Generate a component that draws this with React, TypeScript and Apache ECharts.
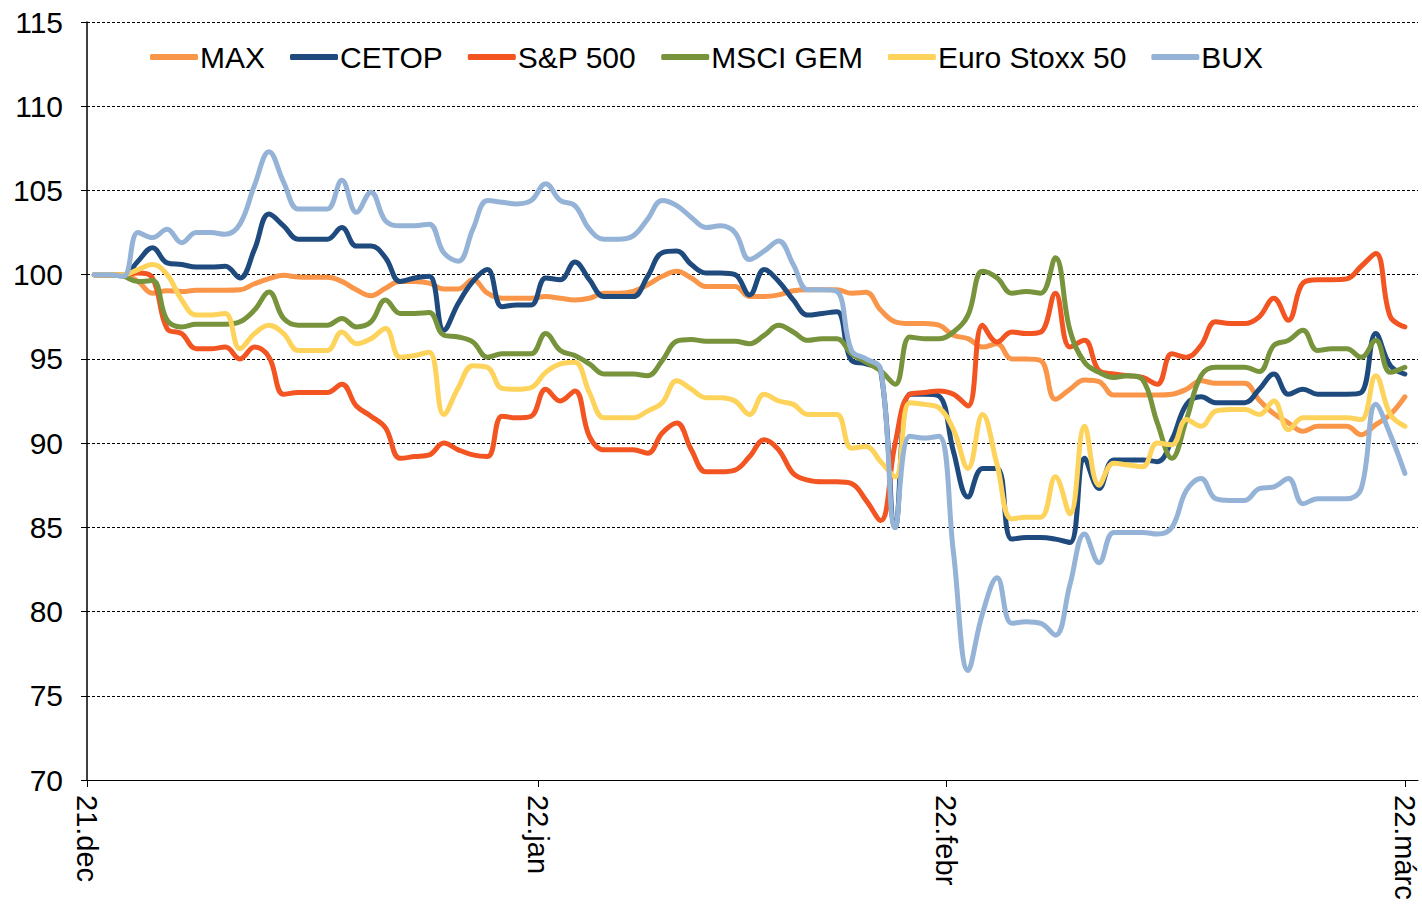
import React, { useEffect, useRef } from "react";
import * as echarts from "echarts";

// Daily values, 2021-12-31 (index 0) to 2022-03-31 (index 90), base = 100
const MAX = [
  100, 100, 100, 99.6, 98.9, 99.05, 99.0, 99.07, 99.07, 99.07, 99.1, 99.46, 99.76, 99.96, 99.86, 99.84, 99.84,
  99.6, 99.1, 98.75, 99.2, 99.6, 99.6, 99.5, 99.15, 99.15, 99.7, 98.9, 98.6, 98.6, 98.6,
  98.7, 98.6, 98.5, 98.6, 98.9, 98.9, 99.0, 99.4, 99.9, 100.2, 99.8, 99.3, 99.3, 99.3,
  98.7, 98.7, 98.8, 99.05, 99.1, 99.1, 99.1, 98.9, 98.95, 97.9, 97.2, 97.1, 97.1, 97.0,
  96.4, 96.2, 95.7, 95.9, 95.0, 95.0, 94.9, 92.6, 93.2, 93.75, 93.65, 92.85, 92.85, 92.85,
  92.85, 92.9, 93.2, 93.7, 93.55, 93.55, 93.55, 92.55, 91.75, 91.2, 90.7, 91.0, 91.0, 91.0,
  90.5, 91.1, 91.7, 92.75,
];
const CETOP = [
  100, 100, 99.95, 100.8, 101.6, 100.7, 100.6, 100.45, 100.45, 100.5, 99.8, 101.5, 103.6, 102.9, 102.1, 102.1, 102.1,
  102.8, 101.7, 101.7, 101.0, 99.6, 99.8, 99.9, 96.7, 98.3, 99.6, 100.3, 98.1, 98.2, 98.2,
  99.8, 99.7, 100.75, 99.7, 98.7, 98.7, 98.7, 99.9, 101.3, 101.4, 100.6, 100.1, 100.1, 100.0,
  98.8, 100.3, 99.6, 98.5, 97.6, 97.7, 97.8, 94.9, 94.7, 94.3, 85.0, 92.9, 92.9, 92.8,
  89.5, 86.8, 88.5, 88.5, 84.3, 84.4, 84.4, 84.3, 84.1, 89.1, 87.3, 89.0, 89.0, 89.0,
  88.9, 90.2, 92.3, 92.75, 92.4, 92.4, 92.4, 93.2, 94.1, 92.9, 93.2, 92.9, 92.9, 92.9,
  93.0, 96.5, 94.6, 94.1,
];
const SP500 = [
  100, 100, 100, 100.1, 99.8, 96.8, 96.5, 95.6, 95.6, 95.7, 95.0, 95.7, 95.1, 92.9, 93.0, 93.0, 93.0,
  93.5, 92.2, 91.6, 90.9, 89.1, 89.2, 89.3, 90.0, 89.6, 89.3, 89.2, 91.6, 91.5, 91.6,
  93.2, 92.5, 93.1, 90.4, 89.6, 89.6, 89.6, 89.4, 90.6, 91.2, 89.6, 88.3, 88.3, 88.4,
  89.2, 90.2, 89.6, 88.2, 87.8, 87.7, 87.7, 87.6, 86.6, 85.4, 90.0, 92.9, 93.0, 93.1,
  92.9, 92.2, 97.0, 96.0, 96.6, 96.5, 96.6, 98.9, 95.7, 96.1, 94.3, 94.1, 94.0, 93.9,
  93.5, 95.3, 95.1, 95.8, 97.2, 97.1, 97.1, 97.5, 98.6, 97.3, 99.5, 99.7, 99.7, 99.75,
  100.5, 101.25, 97.5, 96.9,
];
const MSCI_GEM = [
  100, 100, 99.9, 99.6, 99.65, 97.3, 96.9, 97.06, 97.06, 97.06, 97.2, 97.9, 98.97, 97.4, 97.0, 97.0, 97.0,
  97.4, 96.9, 97.2, 98.5, 97.7, 97.7, 97.75, 96.4, 96.3, 96.0, 95.1, 95.3, 95.3, 95.3,
  96.5, 95.5, 95.2, 94.7, 94.1, 94.1, 94.1, 94.0, 94.9, 96.05, 96.15, 96.05, 96.05, 96.05,
  95.9, 96.4, 97.0, 96.6, 96.1, 96.2, 96.2, 95.3, 94.8, 94.3, 93.5, 96.3, 96.2, 96.2,
  96.6, 97.6, 100.2, 99.8, 98.9, 99.0, 98.9, 101.0, 96.7, 94.8, 94.2, 93.9, 94.0, 93.75,
  91.2, 89.1, 91.4, 94.0, 94.5, 94.5, 94.5, 94.25, 95.8, 96.1, 96.7, 95.5, 95.6, 95.6,
  95.1, 96.1, 94.2, 94.5,
];
const EURO_STOXX = [
  100, 100, 100, 100.3, 100.6, 100.0, 98.5, 97.6, 97.6, 97.7, 95.6, 96.5, 97.0, 96.5, 95.5, 95.5, 95.5,
  96.6, 95.9, 96.2, 96.8, 95.1, 95.2, 95.4, 91.7, 93.3, 94.6, 94.5, 93.25, 93.2, 93.3,
  94.2, 94.7, 94.8, 93.0, 91.5, 91.5, 91.5, 91.9, 92.4, 93.7, 93.2, 92.7, 92.7, 92.5,
  91.7, 92.9, 92.5, 92.3, 91.7, 91.7, 91.7, 89.7, 89.8, 88.9, 88.0, 92.4, 92.3, 92.1,
  90.8, 88.5, 91.7, 88.7, 85.5, 85.6, 85.6, 88.0, 85.8, 91.0, 87.5, 88.8, 88.7, 88.6,
  90.0, 89.9, 91.4, 91.0, 91.9, 92.0, 92.0, 91.7, 92.5, 90.8, 91.5, 91.5, 91.5, 91.5,
  91.4, 94.0, 91.7, 91.0,
];
const BUX = [
  100, 100, 99.9, 102.5, 102.2, 102.7, 101.9, 102.5, 102.5, 102.4, 103.0, 105.3, 107.3, 105.5, 103.9, 103.9, 103.9,
  105.6, 103.7, 104.9, 103.2, 102.9, 102.9, 103.0, 101.3, 100.8, 102.7, 104.4, 104.3, 104.2, 104.4,
  105.4, 104.4, 104.1, 102.7, 102.1, 102.1, 102.3, 103.3, 104.4, 104.1, 103.4, 102.8, 102.9, 102.5,
  100.9, 101.4, 102.0, 100.6, 99.1, 99.1, 99.0, 95.5, 95.0, 94.4, 85.0, 90.4, 90.3, 90.4,
  83.5, 76.5, 79.9, 82.0, 79.3, 79.4, 79.3, 78.6, 81.6, 84.6, 82.9, 84.7, 84.7, 84.7,
  84.6, 85.0, 87.2, 87.9, 86.7, 86.6, 86.6, 87.3, 87.4, 87.9, 86.4, 86.7, 86.7, 86.7,
  87.3, 92.3, 90.5, 88.2,
];

const SERIES_NAMES = ["MAX", "CETOP", "S&P 500", "MSCI GEM", "Euro Stoxx 50", "BUX"];
const SERIES_DATA = [MAX, CETOP, SP500, MSCI_GEM, EURO_STOXX, BUX];
const SERIES_COLORS = ["#F9964A", "#1F4A7E", "#F25522", "#77933C", "#FDD35C", "#95B3D7"];

// x-axis tick positions (day boundaries) and their labels
const TICK_POSITIONS = [0, 31, 59, 90.5];
const TICK_LABELS = ["21.dec", "22.jan", "22.febr", "22.márc"];

const FONT = "'Liberation Sans', Arial, sans-serif";

export default function App() {
  const ref = useRef<HTMLDivElement>(null);

  useEffect(() => {
    if (!ref.current) return;
    const chart = echarts.init(ref.current, undefined, { renderer: "svg" });
    const option: any = {
      animation: false,
      backgroundColor: "#ffffff",
      textStyle: { fontFamily: FONT },
      grid: { left: 87, right: 4, top: 22, bottom: 129, containLabel: false },
      legend: {
        left: 150,
        top: 42,
        padding: 0,
        icon: "roundRect",
        itemWidth: 48,
        itemHeight: 6,
        itemGap: 25,
        textStyle: { fontSize: 30, color: "#000", fontFamily: FONT, padding: [0, 0, 0, -3] },
        data: SERIES_NAMES,
      },
      xAxis: {
        type: "value",
        min: 0,
        max: 91.4,
        splitLine: { show: false },
        axisLine: { show: true, onZero: false, lineStyle: { color: "#000", width: 1 } },
        axisTick: {
          show: true,
          length: 7,
          customValues: TICK_POSITIONS,
          lineStyle: { color: "#000", width: 1 },
        },
        axisLabel: {
          customValues: TICK_POSITIONS,
          rotate: -90,
          margin: 15,
          fontSize: 29,
          color: "#000",
          fontFamily: FONT,
          formatter: (v: number) => {
            const i = TICK_POSITIONS.indexOf(v);
            return i >= 0 ? TICK_LABELS[i] : "";
          },
        },
      },
      yAxis: {
        type: "value",
        min: 70,
        max: 115,
        interval: 5,
        axisLine: { show: true, lineStyle: { color: "#000", width: 1.5 } },
        axisTick: { show: true, inside: false, length: 6, lineStyle: { color: "#000" } },
        axisLabel: { fontSize: 30, color: "#000", margin: 24, fontFamily: FONT },
        splitLine: { show: true, lineStyle: { color: "#000", width: 1, type: [3, 2] } },
      },
      series: SERIES_NAMES.map((name, k) => ({
        name,
        type: "line",
        data: SERIES_DATA[k].map((v, i) => [i + 0.5, v]),
        smooth: 0.4,
        symbol: "none",
        color: SERIES_COLORS[k],
        lineStyle: { width: 5, color: SERIES_COLORS[k], cap: "round", join: "round" },
        z: 2 + k,
      })),
    };
    chart.setOption(option);
    return () => chart.dispose();
  }, []);

  return (
    <div
      ref={ref}
      style={{ position: "fixed", left: 0, top: 0, width: 1422, height: 909, background: "#fff" }}
    />
  );
}
